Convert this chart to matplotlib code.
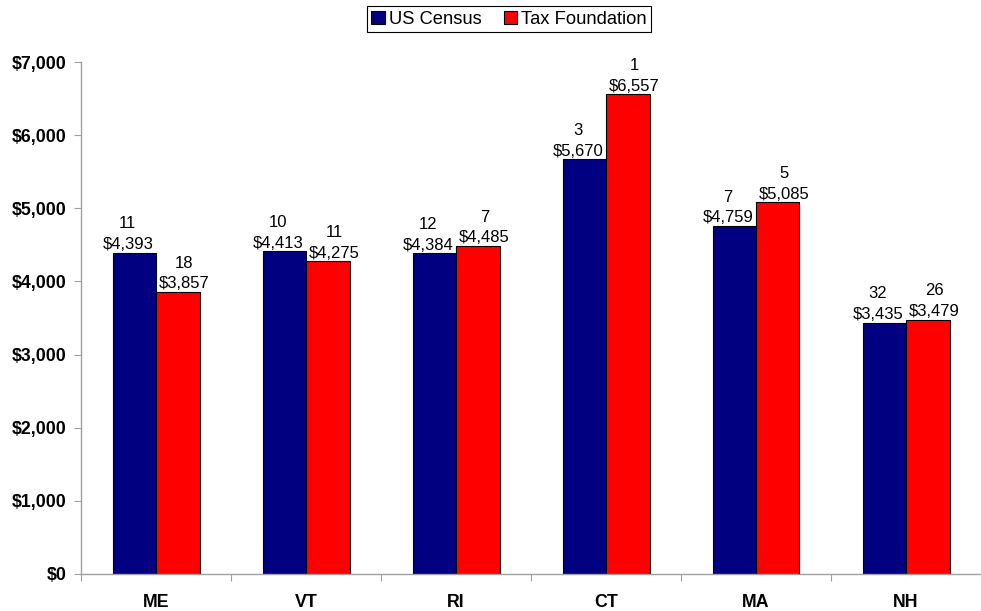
import matplotlib
matplotlib.use("Agg")
import matplotlib.pyplot as plt
import numpy as np
from matplotlib.patches import Patch

states = ["ME", "VT", "RI", "CT", "MA", "NH"]
census_values = [4393, 4413, 4384, 5670, 4759, 3435]
census_ranks = [11, 10, 12, 3, 7, 32]
taxfound_values = [3857, 4275, 4485, 6557, 5085, 3479]
taxfound_ranks = [18, 11, 7, 1, 5, 26]
yticks = [0, 1000, 2000, 3000, 4000, 5000, 6000, 7000]
ytick_labels = ["$0", "$1,000", "$2,000", "$3,000", "$4,000", "$5,000", "$6,000", "$7,000"]

plt.rcParams['font.family'] = ['Liberation Sans', 'DejaVu Sans']

W, H = 981, 611
fig = plt.figure(figsize=(W/100, H/100), dpi=100)
ax = fig.add_axes([81/W, 37/H, (981-81)/W, 512/H])

x = np.arange(len(states))
bw = 0.29
navy = "#000080"
red = "#FF0000"
ax.bar(x - bw/2, census_values, bw, color=navy, edgecolor="black", linewidth=0.8, zorder=2)
ax.bar(x + bw/2, taxfound_values, bw, color=red, edgecolor="black", linewidth=0.8, zorder=2)

for xs, vals, ranks, dx in [(x - bw/2, census_values, census_ranks, -4.7),
                            (x + bw/2, taxfound_values, taxfound_ranks, 4.7)]:
    for xi, v, r in zip(xs, vals, ranks):
        ax.annotate(f"${v:,}", (xi, v), xytext=(dx, 2.5), textcoords="offset points",
                    ha="center", va="baseline", fontsize=12, color="black")
        ax.annotate(f"{r}", (xi, v), xytext=(dx, 17.5), textcoords="offset points",
                    ha="center", va="baseline", fontsize=12, color="black")

ax.set_ylim(0, 7000)
ax.set_xlim(-0.5, (981-81)/152 - 0.5)
ax.set_yticks(yticks)
ax.set_yticklabels(ytick_labels, fontsize=12.8, fontweight="bold")

ax.set_xticks(np.arange(-0.5, len(states), 1.0))
ax.set_xticklabels([])
ax.set_xticks(x, minor=True)
ax.set_xticklabels(states, minor=True, fontsize=12.8, fontweight="bold")
ax.tick_params(axis="x", which="major", length=5, color="#a0a0a0", direction="out")
ax.tick_params(axis="x", which="minor", length=0, pad=14.5)
ax.tick_params(axis="y", length=5, color="#a0a0a0", direction="out", pad=5.5)

for s in ["top", "right"]:
    ax.spines[s].set_visible(False)
for s in ["left", "bottom"]:
    ax.spines[s].set_color("#a0a0a0")
    ax.spines[s].set_linewidth(1.0)

handles = [Patch(facecolor=navy, edgecolor="black", linewidth=0.8),
           Patch(facecolor=red, edgecolor="black", linewidth=0.8)]
leg = fig.legend(handles, ["US Census", "Tax Foundation"], loc="upper center",
                 bbox_to_anchor=(509/W, 1 - 6/H), ncol=2, fontsize=13.2,
                 frameon=True, fancybox=False, edgecolor="black", framealpha=1,
                 handlelength=0.75, handleheight=0.75, handletextpad=0.2,
                 columnspacing=1.2, borderpad=0.25, borderaxespad=0)
leg.get_frame().set_linewidth(0.8)

fig.savefig("out.png", dpi=100)
